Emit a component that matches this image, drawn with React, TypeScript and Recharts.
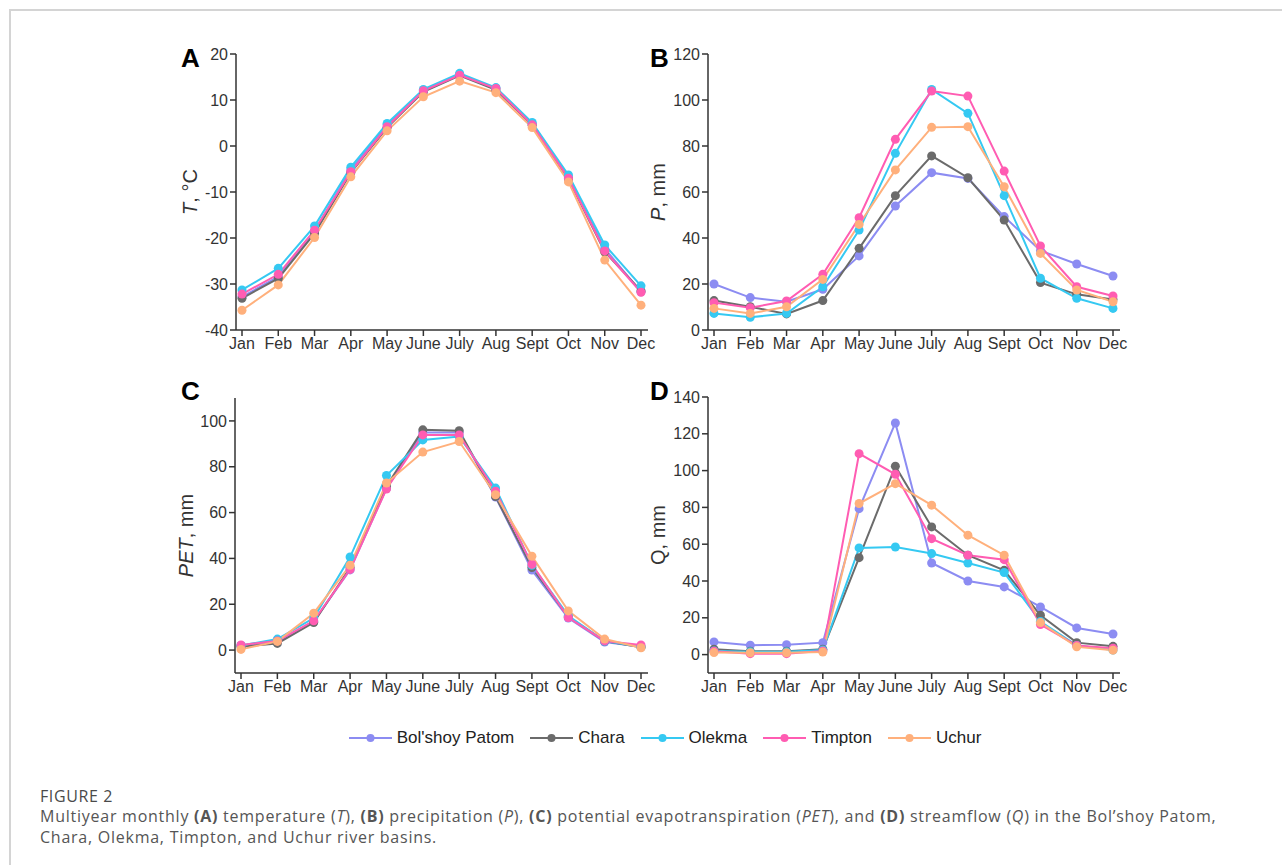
import React from 'react';
import { Line, LineChart, XAxis, YAxis } from 'recharts';

const months = ['Jan', 'Feb', 'Mar', 'Apr', 'May', 'June', 'July', 'Aug', 'Sept', 'Oct', 'Nov', 'Dec'];

const basins = ["Bol'shoy Patom", 'Chara', 'Olekma', 'Timpton', 'Uchur'];
const basinColors = ['#8c8cf2', '#6b6b6b', '#35c9f2', '#ff5cb2', '#ffb07c'];

// (A) temperature, degC
const tBolshoyPatom = [-32.8, -28.4, -18.5, -5.2, 4.6, 12.0, 15.6, 12.5, 4.9, -6.8, -22.3, -31.7];
const tChara = [-33.1, -28.8, -19.0, -5.8, 4.0, 11.8, 15.3, 12.2, 4.5, -7.2, -23.0, -31.5];
const tOlekma = [-31.3, -26.6, -17.4, -4.6, 4.9, 12.3, 15.8, 12.7, 5.1, -6.3, -21.5, -30.4];
const tTimpton = [-32.2, -27.9, -18.3, -5.6, 4.2, 12.0, 15.4, 12.5, 4.6, -7.0, -22.8, -31.8];
const tUchur = [-35.7, -30.2, -19.9, -6.7, 3.3, 10.7, 14.1, 11.6, 4.0, -7.8, -24.8, -34.6];

// (B) precipitation, mm
const pBolshoyPatom = [20.0, 14.1, 12.3, 17.7, 32.2, 53.9, 68.4, 65.9, 49.3, 34.5, 28.7, 23.5];
const pChara = [12.8, 10.1, 7.0, 12.8, 35.5, 58.4, 75.7, 66.2, 47.8, 20.6, 15.5, 13.3];
const pOlekma = [7.2, 5.5, 7.2, 18.8, 43.5, 76.8, 104.6, 94.2, 58.4, 22.5, 13.8, 9.4];
const pTimpton = [11.9, 9.7, 12.6, 24.2, 48.8, 82.9, 103.9, 101.7, 69.1, 36.5, 18.8, 14.8];
const pUchur = [9.4, 7.2, 10.1, 22.0, 45.9, 69.6, 88.1, 88.4, 62.3, 33.3, 17.4, 12.3];

// (C) potential evapotranspiration, mm
const petBolshoyPatom = [2.0, 3.5, 12.5, 35.0, 70.5, 95.0, 95.0, 66.8, 34.9, 14.0, 3.5, 1.5];
const petChara = [1.5, 2.9, 12.0, 36.0, 71.5, 96.1, 95.7, 67.0, 36.0, 14.5, 3.9, 1.2];
const petOlekma = [2.0, 4.8, 14.0, 40.6, 76.2, 91.7, 93.2, 70.7, 37.0, 15.0, 3.9, 1.5];
const petTimpton = [2.2, 4.0, 12.8, 35.2, 70.3, 93.9, 93.9, 69.3, 37.4, 14.2, 4.0, 2.2];
const petUchur = [0.3, 3.8, 16.1, 37.0, 72.9, 86.4, 91.0, 67.8, 41.0, 17.1, 4.8, 1.0];

// (D) streamflow, mm
const qBolshoyPatom = [6.9, 5.1, 5.4, 6.5, 79.3, 125.9, 49.8, 40.0, 36.8, 25.9, 14.5, 11.2];
const qChara = [2.9, 1.8, 1.8, 2.9, 52.7, 102.4, 69.4, 54.0, 45.8, 21.4, 6.5, 4.5];
const qOlekma = [2.0, 1.5, 1.5, 2.5, 58.0, 58.5, 54.9, 49.8, 44.6, 18.0, 5.0, 2.5];
const qTimpton = [1.8, 0.5, 0.5, 2.0, 109.2, 98.0, 63.0, 54.0, 51.6, 16.3, 5.0, 3.5];
const qUchur = [1.1, 1.0, 1.0, 1.4, 82.1, 92.9, 81.2, 64.9, 54.0, 17.4, 4.2, 2.4];

const tTicks = [-40, -30, -20, -10, 0, 10, 20];
const pTicks = [0, 20, 40, 60, 80, 100, 120];
const petTicks = [0, 20, 40, 60, 80, 100];
const qTicks = [0, 20, 40, 60, 80, 100, 120, 140];

const FONT = '"Liberation Sans", Arial, Helvetica, sans-serif';
const CAPTION_FONT = '"Open Sans", "Noto Sans", sans-serif';
const AXIS = '#333';

const toRows = (series: number[][]) =>
  months.map((m, i) => {
    const row: Record<string, string | number> = { month: m };
    basins.forEach((b, k) => {
      row[b] = series[k][i];
    });
    return row;
  });

type PanelProps = {
  left: number;
  top: number;
  height: number;
  marginTop: number;
  marginRight: number;
  yWidth: number;
  domain: [number, number];
  ticks: number[];
  letter: string;
  letterX: number;
  letterY: number;
  labelX: number;
  label: React.ReactNode;
  series: number[][];
};

const Panel = (props: PanelProps) => {
  const rows = toRows(props.series);
  const plotTop = props.marginTop;
  const plotH = props.height - props.marginTop - 40;

  // panel letter + rotated axis title, drawn in chart coordinates
  const renderLabel = () => (
    <g>
      <text x={props.letterX} y={props.letterY} fontSize={26} fontWeight="bold" fill="#000" fontFamily={FONT}>
        {props.letter}
      </text>
      <text
        transform={`translate(${props.labelX},${plotTop + plotH / 2}) rotate(-90)`}
        textAnchor="middle"
        fontSize={20}
        fill={AXIS}
        fontFamily={FONT}
      >
        {props.label}
      </text>
    </g>
  );

  return (
    <div style={{ position: 'absolute', left: props.left, top: props.top }}>
      <LineChart
        width={500}
        height={props.height}
        data={rows}
        margin={{ top: props.marginTop, right: props.marginRight, left: 0, bottom: 0 }}
      >
        <XAxis
          dataKey="month"
          interval={0}
          height={40}
          padding={{ left: 6, right: 7 }}
          tickSize={6}
          axisLine={{ stroke: AXIS, strokeWidth: 1.5 }}
          tickLine={{ stroke: AXIS, strokeWidth: 1.5 }}
          tick={{ fontSize: 16, fill: AXIS, fontFamily: FONT }}
        />
        <YAxis
          width={props.yWidth}
          domain={props.domain}
          ticks={props.ticks}
          allowDataOverflow
          tickSize={6}
          axisLine={{ stroke: AXIS, strokeWidth: 1.5 }}
          tickLine={{ stroke: AXIS, strokeWidth: 1.5 }}
          tick={{ fontSize: 16, fill: AXIS, fontFamily: FONT }}
          label={renderLabel}
        />
        {basins.map((b, k) => (
          <Line
            key={b}
            type="linear"
            dataKey={b}
            stroke={basinColors[k]}
            strokeWidth={2}
            dot={{ r: 4.5, fill: basinColors[k], stroke: basinColors[k], strokeWidth: 0 }}
            isAnimationActive={false}
          />
        ))}
      </LineChart>
    </div>
  );
};

const LegendRow = () => (
  <div
    style={{
      position: 'absolute',
      left: 330,
      top: 727,
      width: 670,
      height: 22,
      display: 'flex',
      justifyContent: 'center',
      alignItems: 'center',
      fontFamily: FONT,
      fontSize: 17,
      color: '#222',
    }}
  >
    {basins.map((b, k) => (
      <div key={b} style={{ display: 'flex', alignItems: 'center', marginRight: k < basins.length - 1 ? 16 : 0 }}>
        <svg width={43} height={12} style={{ marginRight: 5 }}>
          <line x1={0} y1={6} x2={43} y2={6} stroke={basinColors[k]} strokeWidth={2} />
          <circle cx={21.5} cy={6} r={4} fill={basinColors[k]} />
        </svg>
        <span>{b}</span>
      </div>
    ))}
  </div>
);

export default function App() {
  return (
    <div style={{ position: 'absolute', left: 0, top: 0, width: 1282, height: 865, background: '#fff', overflow: 'hidden' }}>
      <div
        style={{
          position: 'absolute',
          left: 9,
          top: 9,
          width: 1290,
          height: 870,
          borderTop: '2px solid #d4d4d4',
          borderLeft: '2px solid #d4d4d4',
        }}
      />
      <Panel
        left={160}
        top={40}
        height={330}
        marginTop={14}
        marginRight={12}
        yWidth={76}
        domain={[-40, 20]}
        ticks={tTicks}
        letter="A"
        letterX={21}
        letterY={27}
        labelX={37}
        label={
          <>
            <tspan fontStyle="italic">T</tspan>, °C
          </>
        }
        series={[tBolshoyPatom, tChara, tOlekma, tTimpton, tUchur]}
      />
      <Panel
        left={640}
        top={40}
        height={330}
        marginTop={14}
        marginRight={20}
        yWidth={68}
        domain={[0, 120]}
        ticks={pTicks}
        letter="B"
        letterX={10}
        letterY={27}
        labelX={25}
        label={
          <>
            <tspan fontStyle="italic">P</tspan>, mm
          </>
        }
        series={[pBolshoyPatom, pChara, pOlekma, pTimpton, pUchur]}
      />
      <Panel
        left={160}
        top={375}
        height={338}
        marginTop={23}
        marginRight={12}
        yWidth={75}
        domain={[-10, 110]}
        ticks={petTicks}
        letter="C"
        letterX={21}
        letterY={25}
        labelX={33}
        label={
          <>
            <tspan fontStyle="italic">PET</tspan>, mm
          </>
        }
        series={[petBolshoyPatom, petChara, petOlekma, petTimpton, petUchur]}
      />
      <Panel
        left={640}
        top={375}
        height={338}
        marginTop={22}
        marginRight={20}
        yWidth={68}
        domain={[-10, 140]}
        ticks={qTicks}
        letter="D"
        letterX={10}
        letterY={25}
        labelX={25}
        label="Q, mm"
        series={[qBolshoyPatom, qChara, qOlekma, qTimpton, qUchur]}
      />
      <LegendRow />
      <div
        style={{
          position: 'absolute',
          left: 40,
          top: 788,
          fontFamily: CAPTION_FONT,
          fontSize: 16,
          lineHeight: '16px',
          letterSpacing: 0.6,
          color: '#4a4a4a',
        }}
      >
        FIGURE 2
      </div>
      <div
        style={{
          position: 'absolute',
          left: 40,
          top: 806,
          width: 1235,
          fontFamily: CAPTION_FONT,
          fontSize: 16,
          lineHeight: '21px',
          letterSpacing: 0.75,
          color: '#555',
          whiteSpace: 'nowrap',
        }}
      >
        Multiyear monthly <b>(A)</b> temperature (<i>T</i>), <b>(B)</b> precipitation (<i>P</i>), <b>(C)</b> potential
        evapotranspiration (<i>PET</i>), and <b>(D)</b> streamflow (<i>Q</i>) in the Bol’shoy Patom,
        <br />
        Chara, Olekma, Timpton, and Uchur river basins.
      </div>
    </div>
  );
}
